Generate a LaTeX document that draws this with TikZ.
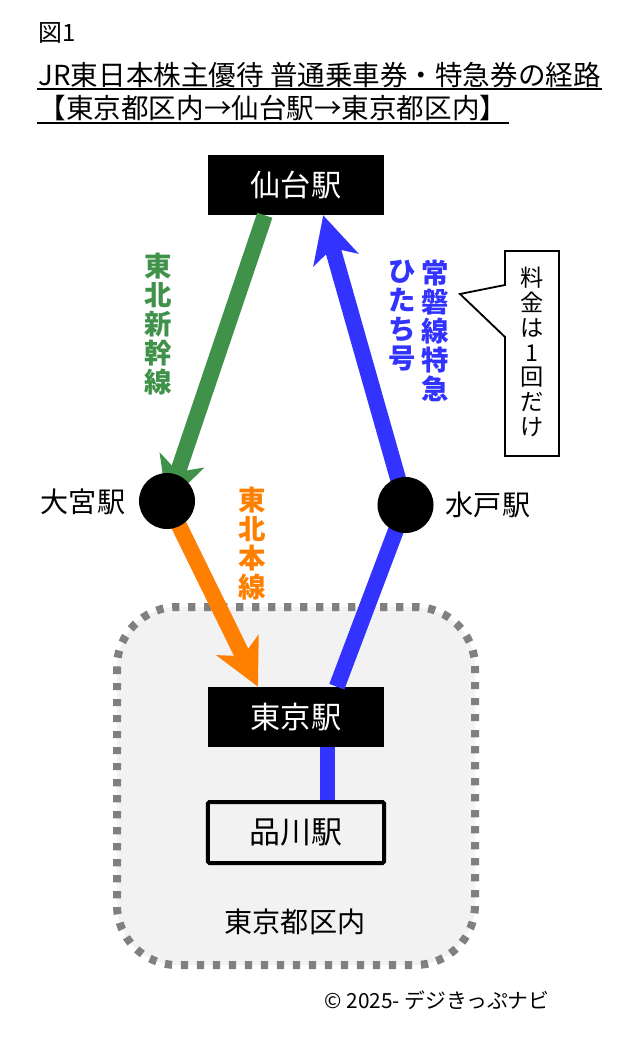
\documentclass[tikz,border=0pt]{standalone}
\usepackage{fontspec}
\setmainfont{Noto Sans CJK JP}
\usetikzlibrary{arrows.meta}
\definecolor{jrgreen}{RGB}{64,146,74}
\definecolor{jrblue}{RGB}{51,51,255}
\definecolor{jrorange}{RGB}{255,128,0}
\definecolor{areagray}{RGB}{242,242,242}
\definecolor{dotgray}{RGB}{128,128,128}
\tikzset{
  station/.style={fill=black,text=white,minimum width=4.4cm,minimum height=1.5cm,
    inner sep=0,font=\fontsize{21.5}{24}\selectfont},
  stopdot/.style={circle,fill=black,minimum size=1.4cm,inner sep=0},
  route/.style={line width=0.4cm,-{Stealth[length=1.15cm,width=1.15cm,inset=0.3cm]}},
  vlabel/.style={align=center,inner sep=0,font=\fontsize{19.5}{20.5}\selectfont\bfseries},
  uline/.style={line width=1.4pt},
}
\begin{document}
\begin{tikzpicture}[x=0.025cm,y=-0.025cm]
\useasboundingbox (0,0) rectangle (640,1045);
% title
\node[anchor=west,inner sep=0,font=\fontsize{17}{20}\selectfont] (fig) at (38,33) {図1};
\node[anchor=west,inner sep=1pt,font=\fontsize{19.6}{22}\selectfont] (ttl1) at (37,75)
  {JR東日本株主優待 普通乗車券・特急券の経路};
\node[anchor=west,inner sep=1pt,font=\fontsize{19.6}{22}\selectfont] (ttl2) at (37,108)
  {【東京都区内→仙台駅→東京都区内】};
\draw[uline] (ttl1.south west) -- (ttl1.south east);
\draw[uline] (ttl2.south west) -- (ttl2.south east);
% Tokyo area
\draw[dotgray,fill=areagray,line width=0.2cm,dash pattern=on 0.18cm off 0.22cm,
  rounded corners=1.5cm] (117,607) rectangle (475,965);
\node[font=\fontsize{20}{24}\selectfont] (area) at (295,922) {東京都区内};
% stations
\node[station] (sendai) at (296,185) {仙台駅};
\node[station] (tokyo) at (296,717) {東京駅};
\node[draw,line width=0.1cm,rounded corners=1pt,minimum width=4.4cm,minimum height=1.525cm,
  inner sep=0,font=\fontsize{22}{24}\selectfont] (shinagawa) at (296,832.5) {品川駅};
\coordinate (omiyaC) at (167,501);
\coordinate (mitoC) at (405.5,505);
% routes
\draw[route,jrgreen] ([xshift=-0.78cm]sendai.south) -- ([yshift=-0.08cm]omiyaC);
\draw[route,jrorange] (omiyaC) -- ([xshift=-0.95cm]tokyo.north);
\draw[route,jrblue,line join=round] ([xshift=1.02cm]tokyo.north) -- (mitoC)
  -- ([xshift=0.68cm]sendai.south);
\draw[jrblue,line width=0.38cm] ([xshift=0.78cm]tokyo.south) -- ([xshift=0.78cm]shinagawa.north);
\node[stopdot] (omiya) at (omiyaC) {};
\node[stopdot] (mito) at (mitoC) {};
\node[font=\fontsize{20}{24}\selectfont] (omiyaL) at (83,502) {大宮駅};
\node[font=\fontsize{20}{24}\selectfont] (mitoL) at (488,505) {水戸駅};
% line names
\node[vlabel,jrgreen,anchor=north] (shinkansen) at (158,253) {東\\北\\新\\幹\\線};
\node[vlabel,jrblue,anchor=north] (joban) at (435,260) {常\\磐\\線\\特\\急};
\node[vlabel,jrblue,anchor=north] (hitachi) at (402,260) {ひ\\た\\ち\\号};
\node[vlabel,jrorange,anchor=north] (honsen) at (252,487) {東\\北\\本\\線};
% callout
\draw[line width=1.3pt,fill=white] (505,251) -- (559,251) -- (559,456) -- (505,456)
  -- (505,337) -- (460,294) -- (505,285) -- cycle;
\node[align=center,inner sep=0,font=\fontsize{16.5}{17.6}\selectfont] (fare) at (532,352)
  {料\\金\\は\\1\\回\\だ\\け};
\node[font=\fontsize{14.8}{17}\selectfont] (copy) at (437,1000) {© 2025- デジきっぷナビ};
\end{tikzpicture}
\end{document}
